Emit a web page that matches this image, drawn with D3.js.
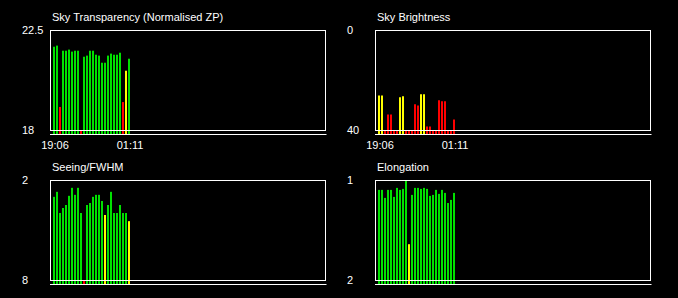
<!DOCTYPE html>
<html>
<head>
<meta charset="utf-8">
<script src="https://cdn.jsdelivr.net/npm/d3@7"></script>
<style>
  body { margin: 0; background: #000; }
  text { font-family: Arial, 'Liberation Sans', sans-serif; font-size: 11px; fill: #fff; }
</style>
</head>
<body>
<div id="chart"></div>
<script>
// time labels (first and last frame of the night)
let timeLabels = ['19:06', '01:11'];
let timeIdx = [0, 25];

// sky transparency (normalised ZP) per frame
let transparency = [21.77, 21.82, 19.06, 21.59, 21.59, 21.64, 21.55, 21.59, 21.59, 18.0,
	21.32, 21.37, 21.59, 21.59, 21.41, 21.37, 21.05, 21.05, 21.37, 21.46,
	21.41, 21.41, 21.50, 19.28, 20.69, 21.23];
let transparencyQ = ['g','g','r','g','g','g','g','g','g','r',
	'g','g','g','g','g','g','g','g','g','g','g','g','g','r','y','g'];

// sky brightness
let brightness = [26, 26, 40, 33.6, 33.6, 40, 40, 26.7, 26.3, 40,
	40, 40, 29.5, 30, 25.5, 25.5, 38.4, 38.4, 40, 40,
	27.9, 28.3, 28.3, 40, 40, 35.6];
let brightnessQ = ['y','y','r','r','r','r','r','y','y','r',
	'r','r','r','r','y','y','r','r','r','r','r','r','r','r','r','r'];

// seeing / FWHM
let seeing = [2.98, 2.68, 3.95, 3.65, 3.47, 2.92, 2.44, 2.86, 2.44, 3.95,
	8, 3.47, 3.35, 2.98, 2.86, 2.86, 3.23, 4.07, 3.47, 2.68,
	3.95, 3.95, 3.47, 3.95, 3.95, 4.44];
let seeingQ = ['g','g','g','g','g','g','g','g','g','g',
	'r','g','g','g','g','g','g','y','g','g','g','g','g','g','g','y'];

// elongation
let elongation = [1.094, 1.094, 1.174, 1.094, 1.094, 1.164, 1.074, 1.094, 1.084, 1.0,
	1.637, 1.144, 1.074, 1.074, 1.084, 1.074, 1.084, 1.154, 1.144, 1.094,
	1.134, 1.094, 1.124, 1.225, 1.194, 1.124];
let elongationQ = ['g','g','g','g','g','g','g','g','g','g',
	'y','g','g','g','g','g','g','g','g','g','g','g','g','g','g','g'];

let panels = [
	{title: 'Sky Transparency (Normalised ZP)', domain: [18, 22.5], ticks: ['22.5', '18'], vals: transparency, q: transparencyQ, times: true},
	{title: 'Sky Brightness', domain: [40, 0], ticks: ['0', '40'], vals: brightness, q: brightnessQ, times: true},
	{title: 'Seeing/FWHM', domain: [8, 2], ticks: ['2', '8'], vals: seeing, q: seeingQ, times: false},
	{title: 'Elongation', domain: [2, 1], ticks: ['1', '2'], vals: elongation, q: elongationQ, times: false}
];

let width = 678,
	height = 298,
	lookup = {g: '#00e000', y: '#ffff00', r: '#ff0000'},
	boxL = 50.5, boxR = 325.5, boxT = 30.5, boxB = 130.5,
	barBottom = 135,
	svg = d3.select('#chart').append('svg')
		.attr('width', width)
		.attr('height', height);

// one slot every 3px across the whole night
let x = d3.scaleLinear().domain([0, 91]).range([53, 326]);

let grp = svg.selectAll('g.panel')
	.data(panels)
	.enter()
	.append('g')
	.attr('class', 'panel')
	.attr('transform', (d, i) => 'translate(' + (i % 2) * 325 + ',' + Math.floor(i / 2) * 150 + ')');

grp.each(function(p) {
	let g = d3.select(this);
	let y = d3.scaleLinear().domain(p.domain).range([boxB, boxT]);

	g.selectAll('rect')
		.data(p.vals)
		.enter()
		.append('rect')
			.attr('x', (d, i) => x(i))
			.attr('y', (d) => y(d))
			.attr('width', 2)
			.attr('height', (d) => barBottom - y(d))
			.attr('fill', (d, i) => lookup[p.q[i]]);

	g.append('rect')
		.attr('x', boxL).attr('y', boxT)
		.attr('width', boxR - boxL).attr('height', boxB - boxT)
		.attr('fill', 'none')
		.style('stroke', '#fff')
		.style('stroke-width', '1px');

	g.append('line')
		.attr('x1', boxL - 0.5).attr('x2', boxR + 1)
		.attr('y1', 134.5).attr('y2', 134.5)
		.style('stroke', '#fff')
		.style('stroke-width', '1px');

	g.append('text')
		.attr('x', 52).attr('y', 21)
		.text(p.title);

	// top / bottom value labels
	g.selectAll('text.tick')
		.data(p.ticks)
		.enter().append('text')
		.attr('class', 'tick')
		.attr('x', 22)
		.attr('y', (d, i) => i === 0 ? 34 : 134)
		.text((d) => d);

	if (p.times) {
		g.selectAll('text.time')
			.data(timeLabels)
			.enter().append('text')
			.attr('class', 'time')
			.attr('x', (d, i) => x(timeIdx[i]) + 2)
			.attr('y', 149)
			.attr('text-anchor', 'middle')
			.text((d) => d);
	}
});
</script>
</body>
</html>
